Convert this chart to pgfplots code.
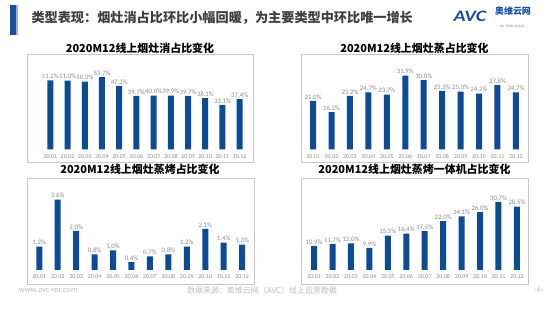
\documentclass[border=0pt]{standalone}
\usepackage{pgfplots}
\pgfplotsset{compat=1.18}
\usepackage{fontspec}
\setmainfont{Carlito}
\newfontfamily\cjk{Noto Sans CJK SC}
\definecolor{barblue}{HTML}{0B4C95}
\definecolor{labgray}{HTML}{8C8C8C}
\definecolor{framegray}{HTML}{C8C8C8}
\definecolor{titlegray}{HTML}{404040}
\definecolor{logoblue}{HTML}{1A4FA0}
\pgfplotsset{panel/.style={
  scale only axis, anchor=south west, ybar, bar width=6bp, ymin=0,
  xmin=-0.6, xmax=11.6, xtick={0,...,11},
  xticklabels={20.01,20.02,20.03,20.04,20.05,20.06,20.07,20.08,20.09,20.10,20.11,20.12},
  axis line style={draw=none}, major tick length=0pt, ytick=\empty,
  /pgf/number format/assume math mode=true,
  xticklabel style={font=\fontsize{6}{6}\selectfont, text=labgray, inner sep=1pt, yshift=-3.5bp},
  nodes near coords={\pgfmathprintnumber[fixed,fixed zerofill,precision=1]{\pgfplotspointmeta}\%},
  every node near coord/.append style={font=\fontsize{6.8}{7}\selectfont, text=labgray, inner sep=1.5pt},
  clip=false, enlargelimits=false
}}
\begin{document}
\begin{tikzpicture}
\fill[white] (0,0) rectangle (550bp,310bp);
% header
\fill[logoblue] (10bp,275bp) rectangle (16bp,305bp);
\fill[logoblue!45] (16bp,275bp) rectangle (18bp,305bp);
\node[anchor=west, text=titlegray, font=\cjk\bfseries\fontsize{13.2}{15}\selectfont] at (28bp,292bp) {类型表现：烟灶消占比环比小幅回暖，为主要类型中环比唯一增长};
\node[text=logoblue, xscale=1.25, font=\bfseries\itshape\fontsize{16}{17}\selectfont] at (470bp,294bp) {AVC};
\node[text=logoblue, inner sep=0pt, font=\cjk\bfseries\fontsize{9}{9}\selectfont] at (513bp,299bp) {奥维云网};
\node[text=logoblue!70, inner sep=0pt, font=\fontsize{3.5}{4}\selectfont] at (512bp,284bp) {ALL VIEW CLOUD};
% frames
\draw[framegray, line width=0.6bp] (27bp,148bp) rectangle (253bp,256bp);
\draw[framegray, line width=0.6bp] (301bp,148bp) rectangle (528bp,256bp);
\draw[framegray, line width=0.6bp] (27bp,26bp) rectangle (254bp,132bp);
\draw[framegray, line width=0.6bp] (301bp,26bp) rectangle (528bp,132bp);
% panel titles
\node[font=\cjk\bfseries\fontsize{11}{12}\selectfont] at (140bp,262bp) {2020M12线上烟灶消占比变化};
\node[font=\cjk\bfseries\fontsize{11}{12}\selectfont] at (414.5bp,262bp) {2020M12线上烟灶蒸占比变化};
\node[font=\cjk\bfseries\fontsize{11}{12}\selectfont] at (140bp,141bp) {2020M12线上烟灶蒸烤占比变化};
\node[font=\cjk\bfseries\fontsize{11}{12}\selectfont] at (414.5bp,141bp) {2020M12线上烟灶蒸烤一体机占比变化};
% axes
\begin{axis}[panel, at={(40bp,160.5bp)}, width=210bp, height=89.5bp, ymax=66.3]
\addplot[fill=barblue, draw=none] coordinates {(0,51.2) (1,51.0) (2,50.2) (3,53.7) (4,47.2) (5,39.7) (6,40.0) (7,39.9) (8,39.7) (9,38.1) (10,33.1) (11,37.4)};
\end{axis}
\begin{axis}[panel, at={(302bp,160.5bp)}, width=225bp, height=89.5bp, ymax=38.7]
\addplot[fill=barblue, draw=none] coordinates {(0,21.0) (1,16.2) (2,23.2) (3,24.7) (4,23.7) (5,31.9) (6,30.0) (7,25.3) (8,25.0) (9,24.2) (10,27.8) (11,24.7)};
\end{axis}
\begin{axis}[panel, at={(28.2bp,40bp)}, width=225bp, height=86bp, ymax=4.4]
\addplot[fill=barblue, draw=none] coordinates {(0,1.2) (1,3.6) (2,2.0) (3,0.8) (4,1.0) (5,0.4) (6,0.7) (7,0.8) (8,1.2) (9,2.1) (10,1.4) (11,1.3)};
\end{axis}
\begin{axis}[panel, at={(303bp,40bp)}, width=225bp, height=86bp, ymax=38.7]
\addplot[fill=barblue, draw=none] coordinates {(0,10.9) (1,11.7) (2,12.0) (3,9.9) (4,15.5) (5,16.4) (6,17.5) (7,22.0) (8,24.1) (9,26.0) (10,30.7) (11,28.5)};
\end{axis}
% footer
\node[anchor=west, text=black!25, font=\fontsize{8.5}{9}\selectfont] at (15bp,20bp) {www.avc-mr.com};
\node[text=black!25, font=\cjk\fontsize{8}{9}\selectfont] at (262bp,20bp) {数据来源：奥维云网（AVC）线上监测数据};
\node[text=black!25, font=\fontsize{8}{9}\selectfont] at (539bp,20bp) {-6-};
\end{tikzpicture}
\end{document}
